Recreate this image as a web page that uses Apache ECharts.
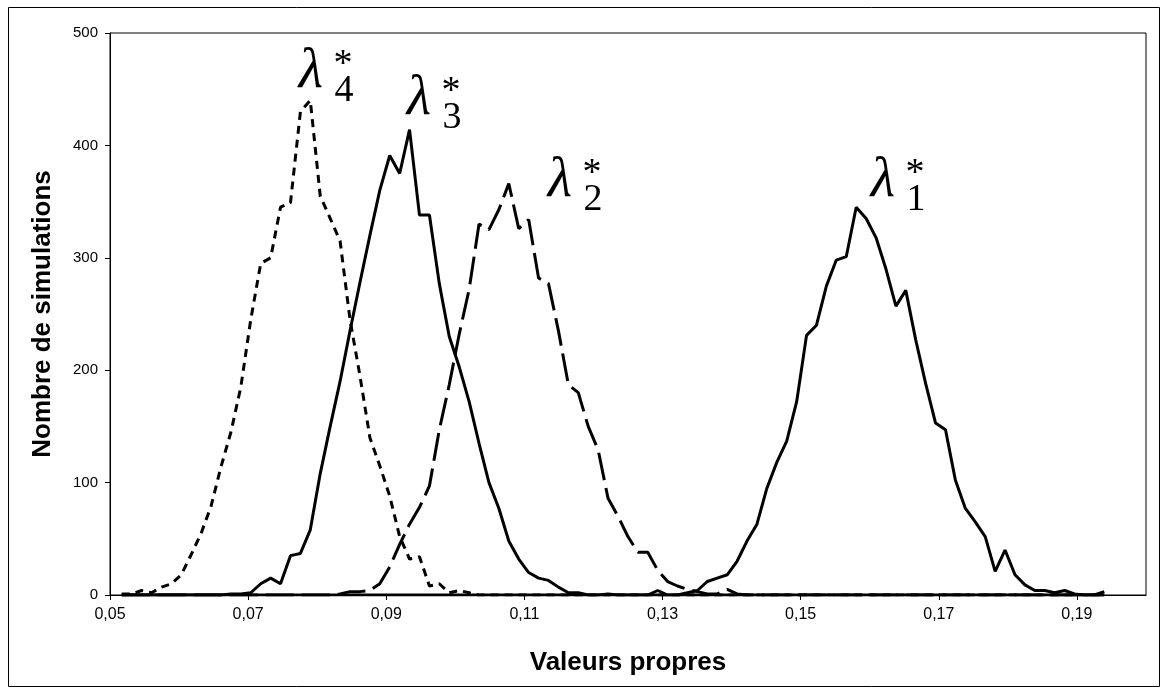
<!DOCTYPE html>
<html>
<head>
<meta charset="utf-8">
<script src="https://cdn.jsdelivr.net/npm/echarts@6/dist/echarts.min.js"></script>
<style>
html,body{margin:0;padding:0;background:#fff;}
#chart{width:1168px;height:688px;}
</style>
</head>
<body>
<div id="chart"></div>
<script>
// Bin centres (valeurs propres)
var binCenters = [0.0517,0.05314,0.05457,0.05601,0.05745,0.05889,0.06032,0.06176,0.06320,0.06463,
0.06607,0.06751,0.06894,0.07038,0.07182,0.07326,0.07469,0.07613,0.07757,0.07900,
0.08044,0.08188,0.08331,0.08475,0.08619,0.08763,0.08906,0.09050,0.09194,0.09337,
0.09481,0.09625,0.09768,0.09912,0.10056,0.10200,0.10343,0.10487,0.10631,0.10774,
0.10918,0.11062,0.11205,0.11349,0.11493,0.11637,0.11780,0.11924,0.12068,0.12211,
0.12355,0.12499,0.12642,0.12786,0.12930,0.13074,0.13217,0.13361,0.13505,0.13648,
0.13792,0.13936,0.14079,0.14223,0.14367,0.14511,0.14654,0.14798,0.14942,0.15085,
0.15229,0.15373,0.15516,0.15660,0.15804,0.15948,0.16091,0.16235,0.16379,0.16522,
0.16666,0.16810,0.16953,0.17097,0.17241,0.17385,0.17528,0.17672,0.17816,0.17959,
0.18103,0.18247,0.18390,0.18534,0.18678,0.18822,0.18965,0.19109,0.19253,0.19396];

// Nombre de simulations per bin
var lambda4 = [1,1,4,2,7,10,18,36,55,79,
114,145,185,245,295,300,345,349,430,440,
355,335,315,245,195,140,115,88,52,32,
34,8,10,2,4,2,0,0,0,0,
0,0,0,0,0,0,0,0,0,0,
0,0,0,0,0,0,0,0,0,0,
0,0,0,0,0,0,0,0,0,0,
0,0,0,0,0,0,0,0,0,0,
0,0,0,0,0,0,0,0,0,0,
0,0,0,0,0,0,0,0,0,0];

var lambda3 = [0,0,0,0,0,0,0,0,0,0,
0,1,1,2,10,15,10,35,37,58,
108,150,190,235,278,320,360,391,375,414,
338,338,277,230,203,172,135,100,77,48,
32,20,15,13,7,2,2,0,0,1,
0,0,0,0,4,0,0,0,0,0,
0,0,0,0,0,0,0,0,0,0,
0,0,0,0,0,0,0,0,0,0,
0,0,0,0,0,0,0,0,0,0,
0,0,0,0,0,0,0,0,0,0];

var lambda2 = [0,0,0,0,0,0,0,0,0,0,
0,0,0,0,0,0,0,0,0,0,
0,0,1,3,3,4,10,25,45,63,
78,97,147,187,232,272,330,325,343,366,
326,334,282,277,235,187,180,150,129,86,
70,52,38,38,22,12,8,5,3,1,
1,5,1,0,0,0,0,0,0,0,
0,0,0,0,0,0,0,0,0,0,
0,0,0,0,0,0,0,0,0,0,
0,0,0,0,0,0,0,0,0,0];

var lambda1 = [0,0,0,0,0,0,0,0,0,0,
0,0,0,0,0,0,0,0,0,0,
0,0,0,0,0,0,0,0,0,0,
0,0,0,0,0,0,0,0,0,0,
0,0,0,0,0,0,0,0,0,0,
0,0,0,0,0,0,0,2,4,12,
15,18,30,48,63,95,118,137,172,231,
240,275,298,301,345,335,318,290,257,271,
227,188,153,147,102,77,65,52,21,40,
18,9,4,4,2,4,1,0,0,3];

var xTickValues = [0.05,0.07,0.09,0.11,0.13,0.15,0.17,0.19];
var yMin = 0, yMax = 500, yStep = 100;
var xMin = 0.05, xMax = 0.20;

function pairs(vals){ return binCenters.map(function(x,i){ return [x, vals[i]]; }); }

var chart = echarts.init(document.getElementById('chart'), null, {renderer:'canvas'});
var sans = '"Liberation Sans", Arial, sans-serif';
var serif = '"Liberation Serif", "Times New Roman", serif';

function lam(cx, cy, sub){
  return [
    {type:'text', style:{x:cx, y:cy, text:'λ', font:'italic 56px ' + serif, fill:'#000', align:'center', verticalAlign:'middle'}},
    {type:'text', style:{x:cx+32, y:cy-7, text:'*', font:'38px ' + serif, fill:'#000', align:'center', verticalAlign:'middle'}},
    {type:'text', style:{x:cx+33, y:cy+19, text:sub, font:'38px ' + serif, fill:'#000', align:'center', verticalAlign:'middle'}}
  ];
}

var option = {
  backgroundColor:'#fff',
  animation:false,
  grid:{left:110, top:33, right:22, bottom:93, show:true, borderColor:'#000', borderWidth:1, backgroundColor:'transparent'},
  xAxis:{
    type:'value', min:xMin, max:xMax,
    name:'Valeurs propres', nameLocation:'middle', nameGap:55,
    nameTextStyle:{fontFamily:sans, fontWeight:'bold', fontSize:26, color:'#000'},
    axisLine:{show:true, onZero:false, lineStyle:{color:'#000', width:1}},
    axisTick:{show:true, inside:false, length:5, customValues:xTickValues, lineStyle:{color:'#000'}},
    axisLabel:{customValues:xTickValues, margin:12, fontFamily:sans, fontSize:16, color:'#000',
      formatter:function(v){ return v.toFixed(2).replace('.', ','); }},
    splitLine:{show:false}
  },
  yAxis:{
    type:'value', min:yMin, max:yMax, interval:yStep,
    name:'Nombre de simulations', nameLocation:'middle', nameGap:54,
    nameTextStyle:{fontFamily:sans, fontWeight:'bold', fontSize:26, color:'#000'},
    axisLine:{show:true, lineStyle:{color:'#000', width:1}},
    axisTick:{show:true, inside:false, length:5, lineStyle:{color:'#000'}},
    axisLabel:{margin:12, fontFamily:sans, fontSize:15, color:'#000'},
    splitLine:{show:false}
  },
  series:[
    {name:'λ4', type:'line', data:pairs(lambda4), showSymbol:false, symbol:'none',
      lineStyle:{color:'#000', width:3, type:[8,6]}},
    {name:'λ3', type:'line', data:pairs(lambda3), showSymbol:false, symbol:'none',
      lineStyle:{color:'#000', width:3}},
    {name:'λ2', type:'line', data:pairs(lambda2), showSymbol:false, symbol:'none',
      lineStyle:{color:'#000', width:3, type:[28,8]}},
    {name:'λ1', type:'line', data:pairs(lambda1), showSymbol:false, symbol:'none',
      lineStyle:{color:'#000', width:3}}
  ],
  graphic:[
    {type:'rect', shape:{x:8.5, y:7.5, width:1151, height:679}, style:{fill:'none', stroke:'#000', lineWidth:1}, silent:true}
  ].concat(lam(311, 72, '4'), lam(419, 99, '3'), lam(560, 181, '2'), lam(883, 181, '1'))
};
chart.setOption(option);
</script>
</body>
</html>
